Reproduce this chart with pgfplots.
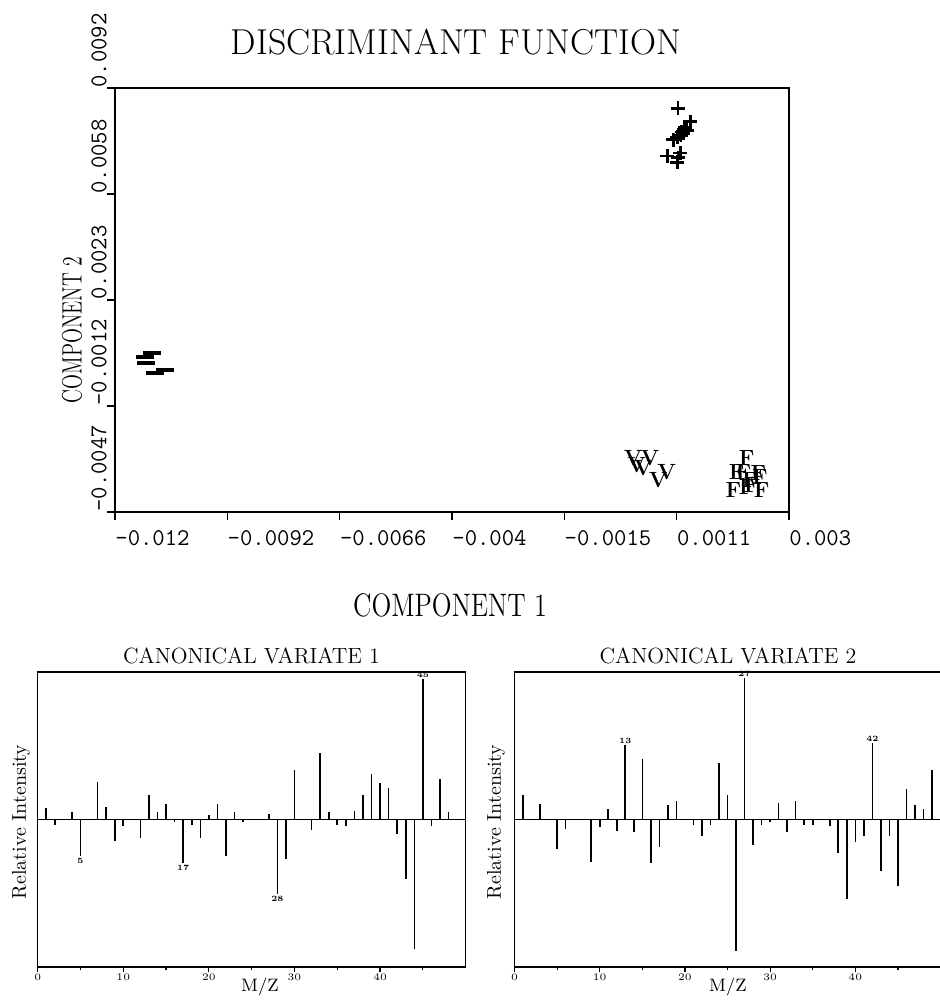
\documentclass[border=0pt]{standalone}
\usepackage{pgfplots}
\pgfplotsset{compat=1.18}
\usepackage{graphicx}
\begin{document}
\begin{tikzpicture}
\useasboundingbox (0pt,0pt) rectangle (470pt,-501.5pt);
% ---------------- top scatter ----------------
\begin{axis}[
  at={(57.5pt,-256pt)}, anchor=south west,
  scale only axis, width=337pt, height=212pt,
  xmin=-0.0118, xmax=0.00374, ymin=-0.0047, ymax=0.0092,
  axis line style={line width=1pt},
  tick pos=left, tick align=outside, major tick length=4pt,
  every tick/.style={black, line width=0.8pt},
  scaled ticks=false,
  xtick={-0.0118,-0.00921,-0.00662,-0.00403,-0.00144,0.00115,0.00374},
  xticklabels={-0.012,-0.0092,-0.0066,-0.004,-0.0015,0.0011,0.003},
  ytick={-0.0047,-0.001225,0.00225,0.005725,0.0092},
  yticklabels={-0.0047,-0.0012,0.0023,0.0058,0.0092},
  xticklabel style={font=\fontsize{12}{12}\selectfont\ttfamily, anchor=north west, inner sep=0pt, yshift=-5pt},
  yticklabel style={font=\fontsize{12}{12}\selectfont\ttfamily, xshift=0pt, rotate=90, anchor=south west, inner sep=0pt},
  clip=false,
]
\addplot [only marks, mark=+, mark size=3.5pt, mark options={line width=1.4pt}] coordinates {
(0.00118,0.00854) (0.00146,0.00809) (0.00134,0.00792) (0.00139,0.00782)
(0.00127,0.00776) (0.00130,0.00772) (0.00116,0.00759) (0.00107,0.00750)
(0.00123,0.00707) (0.00093,0.00697) (0.00118,0.00691) (0.00116,0.00677)
(0.00125,0.00765) (0.00132,0.00785)
};
\addplot [only marks, mark=-, mark size=4.5pt, mark options={line width=1.6pt}] coordinates {
(-0.010958,0.000513) (-0.011097,0.000382) (-0.011085,0.000186)
(-0.010878,-0.000142) (-0.010647,-0.000044)
};
\addplot [only marks, mark=text, text mark={V}, text mark as node=true,
  text mark style={font=\fontsize{11}{11}\selectfont\bfseries, inner sep=0pt}] coordinates {
(0.000150,-0.002939) (0.000535,-0.002939) (0.000228,-0.003158)
(0.000381,-0.003266) (0.000920,-0.003378) (0.000726,-0.003650)
};
\addplot [only marks, mark=text, text mark={F}, text mark as node=true,
  text mark style={font=\fontsize{11}{11}\selectfont\bfseries, inner sep=0pt}] coordinates {
(0.002764,-0.002939) (0.002534,-0.003378) (0.003071,-0.003542)
(0.002841,-0.003650) (0.002456,-0.003978) (0.003110,-0.003978)
(0.002764,-0.003869) (0.002686,-0.003378) (0.002880,-0.003814)
(0.003032,-0.003431)
};
\end{axis}
% ---------------- bottom left ----------------
\begin{axis}[
  at={(18.85pt,-483.5pt)}, anchor=south west,
  scale only axis, width=214pt, height=147.5pt,
  xmin=0, xmax=50, ymin=-1, ymax=1,
  ytick=\empty, xtick={0,10,20,30,40}, minor xtick={5,15,25,35,45},
  tick pos=left, tick align=outside, major tick length=2.5pt, minor tick length=1.5pt,
  every tick/.style={black, line width=0.6pt},
  xticklabel style={font=\fontsize{4.5}{5}\selectfont\bfseries, inner sep=1pt},
  axis line style={line width=0.8pt},
  clip=false,
]
\addplot [black, line width=0.8pt] coordinates {(0,0) (50,0)};
\addplot [ycomb, no marks, black, line width=0.8pt] coordinates {
(1,0.079) (2,-0.034) (4,0.05) (5,-0.248) (7,0.255) (8,0.086) (9,-0.146)
(10,-0.045) (12,-0.124) (13,0.169) (14,0.05) (15,0.108) (16,-0.02)
(17,-0.293) (18,-0.034) (19,-0.124) (20,0.034) (21,0.108) (22,-0.248)
(23,0.05) (24,-0.02) (27,0.04) (28,-0.507) (29,-0.266) (30,0.338)
(32,-0.072) (33,0.45) (34,0.05) (35,-0.034) (36,-0.045) (37,0.055)
(38,0.164) (39,0.311) (40,0.248) (41,0.214) (42,-0.10) (43,-0.405)
(44,-0.878) (45,0.955) (46,-0.045) (47,0.275) (48,0.05)
};
\node[font=\fontsize{4}{4}\selectfont\bfseries, anchor=south, inner sep=0.5pt] at (axis cs:45,0.955) {45};
\node[font=\fontsize{4}{4}\selectfont\bfseries, anchor=north, inner sep=0.5pt] at (axis cs:5,-0.25) {5};
\node[font=\fontsize{4}{4}\selectfont\bfseries, anchor=north, inner sep=0.5pt] at (axis cs:17,-0.30) {17};
\node[font=\fontsize{4}{4}\selectfont\bfseries, anchor=north, inner sep=0.5pt] at (axis cs:28,-0.51) {28};
\end{axis}
% ---------------- bottom right ----------------
\begin{axis}[
  at={(257.25pt,-483.5pt)}, anchor=south west,
  scale only axis, width=213pt, height=147.5pt,
  xmin=0, xmax=50, ymin=-1, ymax=1,
  ytick=\empty, xtick={0,10,20,30,40}, minor xtick={5,15,25,35,45},
  tick pos=left, tick align=outside, major tick length=2.5pt, minor tick length=1.5pt,
  every tick/.style={black, line width=0.6pt},
  xticklabel style={font=\fontsize{4.5}{5}\selectfont\bfseries, inner sep=1pt},
  axis line style={line width=0.8pt},
  clip=false,
]
\addplot [black, line width=0.8pt] coordinates {(0,0) (50,0)};
\addplot [ycomb, no marks, black, line width=0.8pt] coordinates {
(1,0.164) (3,0.108) (5,-0.203) (6,-0.063) (9,-0.288) (10,-0.05) (11,0.068)
(12,-0.079) (13,0.507) (14,-0.083) (15,0.412) (16,-0.293) (17,-0.185)
(18,0.101) (19,0.128) (21,-0.04) (22,-0.113) (23,-0.034) (24,0.383)
(25,0.164) (26,-0.89) (27,0.957) (28,-0.176) (29,-0.034) (30,-0.02)
(31,0.113) (32,-0.086) (33,0.124) (34,-0.034) (35,-0.034) (37,-0.045)
(38,-0.225) (39,-0.54) (40,-0.153) (41,-0.113) (42,0.518) (43,-0.349)
(44,-0.113) (45,-0.45) (46,0.207) (47,0.101) (48,0.068) (49,0.338)
};
\node[font=\fontsize{4}{4}\selectfont\bfseries, anchor=south, inner sep=0.5pt] at (axis cs:13,0.507) {13};
\node[font=\fontsize{4}{4}\selectfont\bfseries, anchor=south, inner sep=0.5pt] at (axis cs:27,0.957) {27};
\node[font=\fontsize{4}{4}\selectfont\bfseries, anchor=south, inner sep=0.5pt] at (axis cs:42,0.518) {42};
\end{axis}
% ---------------- titles and labels ----------------
\node[font=\fontsize{18}{18}\selectfont] at (228pt,-21pt) {DISCRIMINANT FUNCTION};
\node[font=\fontsize{13}{13}\selectfont] at (225pt,-302.5pt) {\scalebox{1}[1.25]{COMPONENT 1}};
\node[font=\fontsize{14}{14}\selectfont, rotate=90] at (36pt,-165pt) {\scalebox{0.7}[1]{COMPONENT 2}};
\node[font=\fontsize{11}{11}\selectfont] at (125.75pt,-327.8pt) {CANONICAL VARIATE 1};
\node[font=\fontsize{11}{11}\selectfont] at (364pt,-327.8pt) {CANONICAL VARIATE 2};
\node[font=\fontsize{10}{10}\selectfont, rotate=90] at (10.5pt,-411pt) {Relative Intensity};
\node[font=\fontsize{10}{10}\selectfont, rotate=90] at (248pt,-411pt) {Relative Intensity};
\node[font=\fontsize{9}{9}\selectfont] at (130pt,-493.5pt) {M/Z};
\node[font=\fontsize{9}{9}\selectfont] at (364pt,-493.5pt) {M/Z};
\end{tikzpicture}
\end{document}
